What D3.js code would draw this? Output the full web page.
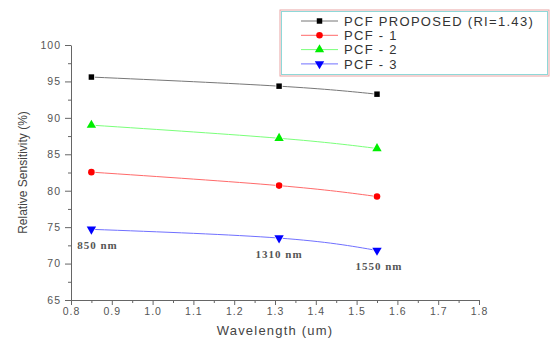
<!DOCTYPE html>
<html>
<head>
<meta charset="utf-8">
<script src="https://cdn.jsdelivr.net/npm/d3@7"></script>
<style>
  body { margin: 0; background: #fff; }
  text { font-family: "Liberation Sans", Arial, sans-serif; }
</style>
</head>
<body>
<svg width="551" height="338"></svg>
<script>
// values
const wavelengths = [0.85, 1.31, 1.55]
const proposed = [95.6, 94.35, 93.25]
const pcf1 = [82.55, 80.7, 79.2]
const pcf2 = [89.0, 87.2, 85.8]
const pcf3 = [74.7, 73.5, 71.8]
const seriesNames = ['PCF PROPOSED (RI=1.43)', 'PCF - 1', 'PCF - 2', 'PCF - 3']
const pointLabels = ['850 nm', '1310 nm', '1550 nm']
const xTicks = [0.8, 0.9, 1.0, 1.1, 1.2, 1.3, 1.4, 1.5, 1.6, 1.7, 1.8]
const yTicks = [65, 70, 75, 80, 85, 90, 95, 100]

const svg = d3.select('svg'),
    margin = {left: 71, right: 72, top: 45, bottom: 38},
    width = +svg.attr('width'),
    height = +svg.attr('height')

const x = d3.scaleLinear().domain([0.8, 1.8]).range([margin.left, width - margin.right]),
    y = d3.scaleLinear().domain([65, 100]).range([height - margin.bottom, margin.top])

const series = [
    {name: seriesNames[0], values: proposed, color: '#000', line: '#777', shape: d3.symbolSquare, size: 30},
    {name: seriesNames[1], values: pcf1, color: '#ff0000', line: '#ff6a6a', shape: d3.symbolCircle, size: 34},
    {name: seriesNames[2], values: pcf2, color: '#00ee00', line: '#7aff7a', shape: d3.symbolTriangle, size: 38, rot: 0},
    {name: seriesNames[3], values: pcf3, color: '#0000ff', line: '#7070ff', shape: d3.symbolTriangle, size: 38, rot: 180}
]

const axisColor = '#666', labelColor = '#555'

// minor ticks first so the major ones sit on top
svg.append('g')
    .attr('transform', 'translate(0,' + y.range()[0] + ')')
    .call(d3.axisBottom(x).tickValues(d3.range(0.85, 1.8, 0.1)).tickSize(3).tickFormat(''))
    .call(g => g.select('.domain').remove())
    .selectAll('line').attr('stroke', axisColor)

svg.append('g')
    .attr('transform', 'translate(' + x.range()[0] + ',0)')
    .call(d3.axisLeft(y).tickValues(d3.range(67.5, 100, 5)).tickSize(3).tickFormat(''))
    .call(g => g.select('.domain').remove())
    .selectAll('line').attr('stroke', axisColor)

const xAxis = svg.append('g')
    .attr('transform', 'translate(0,' + y.range()[0] + ')')
    .call(d3.axisBottom(x).tickValues(xTicks).tickSize(5).tickSizeOuter(0).tickFormat(d3.format('.1f')))
xAxis.select('.domain').attr('stroke', axisColor)
xAxis.selectAll('line').attr('stroke', axisColor)
xAxis.selectAll('text')
    .attr('fill', labelColor)
    .attr('font-size', '10.5px')
    .attr('letter-spacing', '1px')
    .attr('dy', '0.9em')
    .attr('y', 6)

const yAxis = svg.append('g')
    .attr('transform', 'translate(' + x.range()[0] + ',0)')
    .call(d3.axisLeft(y).tickValues(yTicks).tickSize(6).tickSizeOuter(0))
yAxis.select('.domain').attr('stroke', axisColor)
yAxis.selectAll('line').attr('stroke', axisColor)
yAxis.selectAll('text')
    .attr('fill', labelColor)
    .attr('font-size', '10.5px')
    .attr('letter-spacing', '1px')
    .attr('x', -10)

// axis titles
svg.append('text')
    .attr('x', (x.range()[0] + x.range()[1]) / 2)
    .attr('y', 335)
    .attr('text-anchor', 'middle')
    .attr('font-size', '13px')
    .attr('letter-spacing', '1.2px')
    .attr('fill', '#444')
    .text('Wavelength (um)')

svg.append('text')
    .attr('transform', 'translate(27,' + (y.range()[0] + y.range()[1]) / 2 + ')rotate(-90)')
    .attr('text-anchor', 'middle')
    .attr('font-size', '12px')
    .attr('fill', '#444')
    .text('Relative Sensitivity (%)')

// data lines
const line = d3.line()
    .x((d, i) => x(wavelengths[i]))
    .y(d => y(d))
    .curve(d3.curveNatural)

series.forEach(function (s) {
    svg.append('path')
        .attr('d', line(s.values))
        .attr('fill', 'none')
        .attr('stroke', s.line)
        .attr('stroke-width', 1)
})

// markers with a white halo so the lines stop short of them
series.forEach(function (s) {
    svg.selectAll(null)
        .data(s.values)
        .enter().append('path')
        .attr('d', d3.symbol().type(s.shape).size(s.size))
        .attr('transform', (d, i) => 'translate(' + x(wavelengths[i]) + ',' + y(d) + ')rotate(' + (s.rot || 0) + ')')
        .attr('fill', s.color)
        .attr('stroke', '#fff')
        .attr('stroke-width', 1.5)
        .attr('paint-order', 'stroke')
})

// wavelength notes under the PCF - 3 points
const labelShift = [6, 0, 2]
svg.selectAll('.note')
    .data(pointLabels)
    .enter().append('text')
    .attr('x', (d, i) => x(wavelengths[i]) + labelShift[i])
    .attr('y', (d, i) => y(pcf3[i]) + 20)
    .attr('text-anchor', 'middle')
    .style('font-family', '"Liberation Serif", "Times New Roman", serif')
    .attr('font-size', '11px')
    .attr('font-weight', 'bold')
    .attr('letter-spacing', '1px')
    .attr('fill', '#555')
    .text(d => d)

// legend
const legend = svg.append('g').attr('transform', 'translate(280,10)')
legend.append('rect')
    .attr('width', 269).attr('height', 66)
    .attr('fill', '#fff')
    .attr('stroke', '#e9a3a3')
    .attr('stroke-width', 1)
legend.append('rect')
    .attr('x', 1.5).attr('y', 1.5)
    .attr('width', 266).attr('height', 63)
    .attr('fill', 'none')
    .attr('stroke', '#8fd8d8')
    .attr('stroke-width', 1)

const entry = legend.selectAll('.entry')
    .data(series)
    .enter().append('g')
    .attr('transform', (d, i) => 'translate(0,' + (11 + i * 14.3) + ')')

entry.append('line')
    .attr('x1', 21).attr('x2', 58)
    .attr('stroke', d => d.line)
    .attr('stroke-width', 1)
entry.append('path')
    .attr('d', d => d3.symbol().type(d.shape).size(d.size)())
    .attr('transform', d => 'translate(39.5,0)rotate(' + (d.rot || 0) + ')')
    .attr('fill', d => d.color)
entry.append('text')
    .attr('x', 64)
    .attr('dy', '0.36em')
    .attr('font-size', '13px')
    .attr('letter-spacing', '1.3px')
    .attr('fill', '#333')
    .text(d => d.name)
</script>
</body>
</html>
